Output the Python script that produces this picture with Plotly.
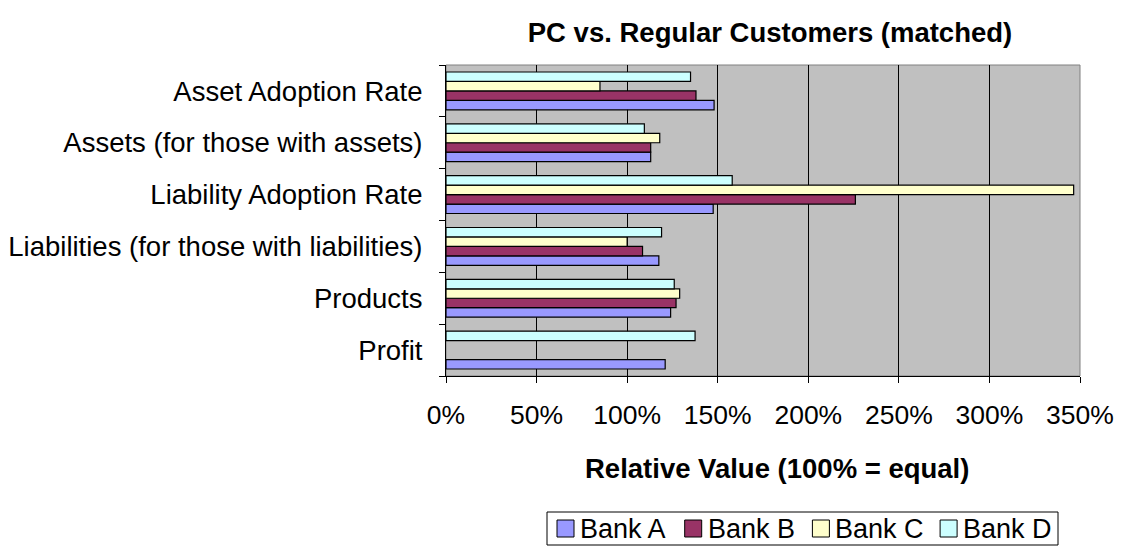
import plotly.graph_objects as go

# categories listed bottom to top as drawn
categories = [
    "Profit",
    "Products",
    "Liabilities (for those with liabilities)",
    "Liability Adoption Rate",
    "Assets (for those with assets)",
    "Asset Adoption Rate",
]
bank_a = [1.21, 1.24, 1.175, 1.475, 1.13, 1.48]
bank_b = [None, 1.27, 1.085, 2.26, 1.13, 1.38]
bank_c = [None, 1.29, 1.00, 3.465, 1.18, 0.85]
bank_d = [1.375, 1.26, 1.19, 1.58, 1.095, 1.35]

series_names = ["Bank A", "Bank B", "Bank C", "Bank D"]
series_values = [bank_a, bank_b, bank_c, bank_d]
series_colors = ["#9999FF", "#993366", "#FFFFCC", "#CCFFFF"]

x_ticks = [0, 0.5, 1.0, 1.5, 2.0, 2.5, 3.0, 3.5]
x_tick_labels = ["0%", "50%", "100%", "150%", "200%", "250%", "300%", "350%"]

FONT = "Liberation Sans, Arial, sans-serif"

# page pixels of the plot area (the page body adds an 8px offset)
PAGE_OFF = 8
PLOT_L, PLOT_R, PLOT_T, PLOT_B = 446, 1080, 65, 376
FIG_W, FIG_H = 1109, 538
PLOT_W = PLOT_R - PLOT_L
PLOT_H = PLOT_B - PLOT_T


def px(x):
    return (x - PLOT_L) / PLOT_W


def py(y):
    return (PLOT_B - y) / PLOT_H


fig = go.Figure()
for name, values, color in zip(series_names, series_values, series_colors):
    fig.add_trace(go.Bar(
        y=categories,
        x=values,
        name=name,
        orientation="h",
        marker=dict(color=color, line=dict(color="black", width=1.2)),
        showlegend=False,
    ))

fig.update_layout(
    width=FIG_W,
    height=FIG_H,
    margin=dict(
        l=PLOT_L - PAGE_OFF,
        r=PAGE_OFF + FIG_W - PLOT_R,
        t=PLOT_T - PAGE_OFF,
        b=PAGE_OFF + FIG_H - PLOT_B,
        autoexpand=False,
    ),
    paper_bgcolor="white",
    plot_bgcolor="#C0C0C0",
    barmode="group",
    bargap=0.27,
    bargroupgap=0,
    font=dict(family=FONT, size=27, color="black"),
    title=dict(
        text="<b>PC vs. Regular Customers (matched)</b>",
        font=dict(family=FONT, size=27.5, color="black"),
        x=px(770), xref="paper", xanchor="center",
        y=1 - (32 - PAGE_OFF) / FIG_H, yref="container", yanchor="middle",
    ),
    showlegend=False,
)

fig.update_xaxes(
    range=[0, 3.5],
    tickvals=x_ticks,
    ticktext=x_tick_labels,
    showgrid=True,
    gridcolor="black",
    gridwidth=1,
    showline=True,
    linecolor="black",
    linewidth=1,
    ticks="outside",
    ticklen=6,
    tickcolor="black",
    ticklabelstandoff=9,
    zeroline=False,
    automargin=False,
    tickfont=dict(family=FONT, size=26.5, color="black"),
)
fig.update_yaxes(
    categoryorder="array",
    categoryarray=categories,
    showgrid=False,
    showline=True,
    linecolor="black",
    linewidth=1,
    ticks="outside",
    tickson="boundaries",
    ticklen=6,
    tickcolor="black",
    ticklabelstandoff=17,
    automargin=False,
    tickfont=dict(family=FONT, size=27.5, color="black"),
)

# gray plot-area border on top and right, like the original
fig.add_shape(
    type="rect", xref="paper", yref="paper", x0=0, y0=0, x1=1, y1=1,
    line=dict(color="#808080", width=1), layer="below",
)

fig.add_annotation(
    text="<b>Relative Value (100% = equal)</b>",
    xref="paper", yref="paper",
    x=px(777), y=py(469), xanchor="center", yanchor="middle",
    showarrow=False,
    font=dict(family=FONT, size=27.5, color="black"),
)

# legend box drawn by hand (larger swatches than plotly's legend)
LEG_L, LEG_R, LEG_T, LEG_B = 547, 1058, 512, 545
fig.add_shape(
    type="rect", xref="paper", yref="paper",
    x0=px(LEG_L), x1=px(LEG_R), y0=py(LEG_B), y1=py(LEG_T),
    line=dict(color="black", width=1), fillcolor="white",
)
leg_mid = (LEG_T + LEG_B) / 2
for i, (name, color) in enumerate(zip(series_names, series_colors)):
    sx = 557 + i * 127.7
    fig.add_shape(
        type="rect", xref="paper", yref="paper",
        x0=px(sx), x1=px(sx + 17), y0=py(leg_mid + 8.5), y1=py(leg_mid - 8.5),
        line=dict(color="black", width=1), fillcolor=color,
    )
    fig.add_annotation(
        text=name, xref="paper", yref="paper",
        x=px(sx + 21), y=py(leg_mid), xanchor="left", yanchor="middle",
        showarrow=False,
        font=dict(family=FONT, size=27, color="black"),
    )

fig.write_html("out.html")
